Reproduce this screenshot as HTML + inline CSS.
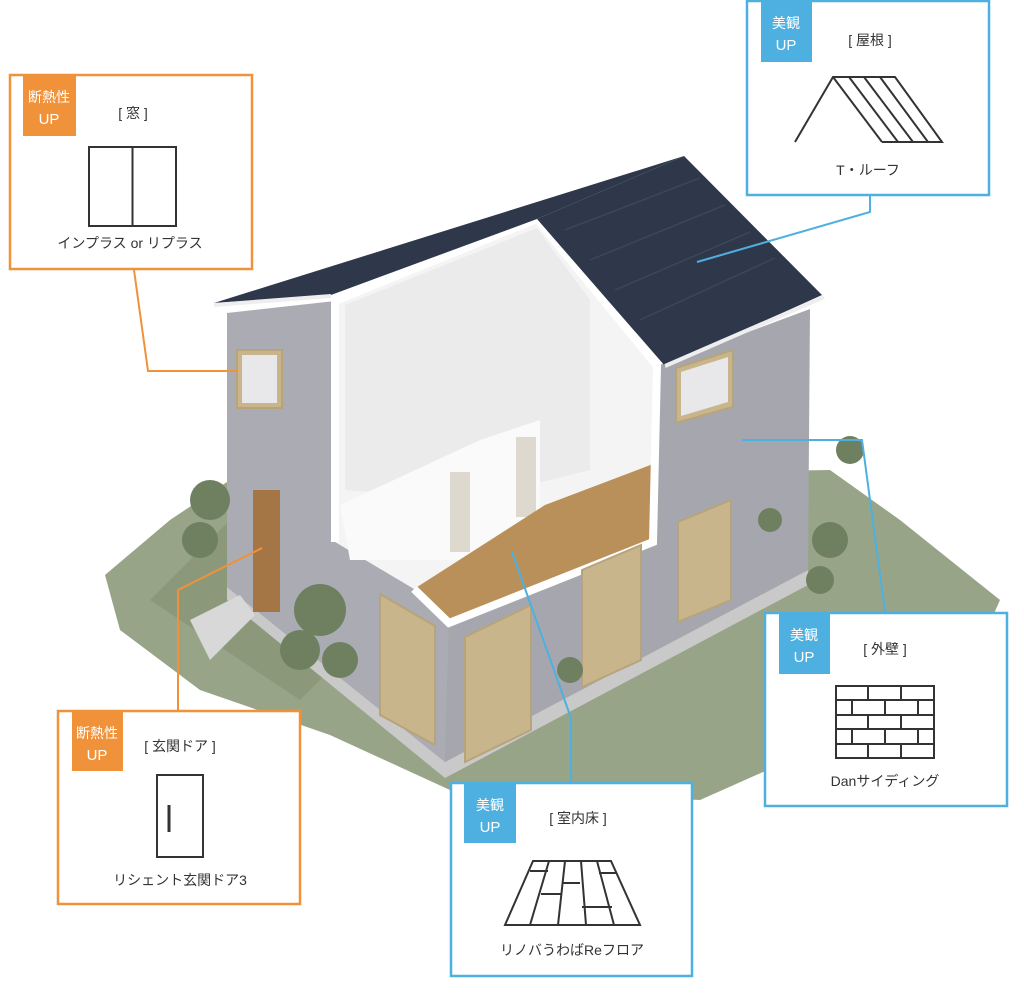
<!DOCTYPE html>
<html><head><meta charset="utf-8"><style>
html,body{margin:0;padding:0;background:#fff;}
svg{display:block}
text{font-family:"Liberation Sans","Noto Sans CJK JP",sans-serif;}
</style></head><body>
<svg width="1024" height="995" viewBox="0 0 1024 995" xmlns="http://www.w3.org/2000/svg">
<!-- grass -->
<polygon points="105,575 170,520 230,480 830,470 900,520 1000,600 960,690 790,760 700,800 450,790 330,735 200,690 120,630" fill="#98a488"/>
<polygon points="150,600 230,520 300,500 400,600 300,700" fill="#7e8c6a" opacity="0.5"/>
<!-- foundation -->
<polygon points="227,587 445,762 808,570 808,585 445,778 227,600" fill="#c9c9c9"/>
<!-- left face -->
<polygon points="227,313 335,301 335,542 414,589 449,623 445,762 227,587" fill="#abacb3"/>
<!-- right face -->
<polygon points="449,623 653,542 657,366 810,309 808,570 445,762" fill="#a6a7ae"/>
<!-- interior -->
<polygon points="335,301 537,219 657,366 653,542 449,623 414,589 335,542" fill="#f4f4f4"/>
<polygon points="345,305 537,228 590,300 590,470 470,500 345,490" fill="#ebebeb"/>
<polygon points="340,505 480,440 540,420 540,520 460,560 350,560" fill="#fafafa"/>
<rect x="450" y="472" width="20" height="80" fill="#ddd9cf"/>
<rect x="516" y="437" width="20" height="80" fill="#ddd9cf"/>
<!-- floor -->
<polygon points="414,589 545,505 653,464 653,542 449,623" fill="#b99059"/>
<!-- inner frame white border -->
<polyline points="335,542 335,301 537,219 657,366 653,542 449,623 414,589" fill="none" stroke="#fff" stroke-width="8"/>
<!-- roofs -->
<polygon points="214,303 684,156 537,219 331,295" fill="#2f384b"/>
<polygon points="537,219 684,156 822,295 665,366" fill="#2f384b"/>
<g stroke="#3d4658" stroke-width="1.5">
<line x1="565" y1="230" x2="700" y2="178"/><line x1="590" y1="260" x2="725" y2="205"/>
<line x1="615" y1="290" x2="750" y2="232"/><line x1="640" y1="320" x2="775" y2="258"/>
</g>
<line x1="665" y1="366" x2="824" y2="297" stroke="#eee" stroke-width="4"/>
<line x1="214" y1="305" x2="331" y2="296" stroke="#eee" stroke-width="4"/>
<!-- windows -->
<g fill="#c9b58b" stroke="#b8a47a" stroke-width="2">
<rect x="237" y="350" width="45" height="58"/>
<polygon points="676,368 733,350 733,407 676,423"/>
<polygon points="380,594 435,626 435,745 380,715"/>
<polygon points="465,637 531,605 531,730 465,762"/>
<polygon points="582,570 641,545 641,660 582,687"/>
<polygon points="678,522 731,500 731,600 678,622"/>
</g>
<g fill="#e8e8ea">
<rect x="242" y="355" width="35" height="48"/>
<polygon points="681,372 728,357 728,402 681,416"/>
</g>
<rect x="253" y="490" width="27" height="122" fill="#a57645"/>
<!-- trees -->
<g fill="#6f8060">
<circle cx="210" cy="500" r="20"/><circle cx="200" cy="540" r="18"/>
<circle cx="320" cy="610" r="26"/><circle cx="300" cy="650" r="20"/><circle cx="340" cy="660" r="18"/>
<circle cx="570" cy="670" r="13"/>
<circle cx="770" cy="520" r="12"/><circle cx="850" cy="450" r="14"/><circle cx="830" cy="540" r="18"/><circle cx="820" cy="580" r="14"/>
</g>
<polygon points="190,620 240,595 255,615 210,660" fill="#d8d8d8"/>

<!-- connector lines -->
<g fill="none" stroke-width="2">
<polyline points="134,270 148,371 238,371" stroke="#f0923a"/>
<polyline points="178,710 178,590 262,548" stroke="#f0923a"/>
<polyline points="870,195 870,212 697,262" stroke="#4eb0e0"/>
<polyline points="571,782 571,718 512,552" stroke="#4eb0e0"/>
<polyline points="742,440 862,440 885,612" stroke="#4eb0e0"/>
</g>

<!-- window box -->
<rect x="10" y="75" width="242" height="194" fill="#fff" stroke="#f0923a" stroke-width="2.5"/>
<rect x="23" y="76" width="53" height="60" fill="#f0923a"/>
<text x="49" y="102" font-size="14" fill="#fff" text-anchor="middle">断熱性</text>
<text x="49" y="124" font-size="15" fill="#fff" text-anchor="middle">UP</text>
<text x="133" y="118" font-size="14" fill="#333" text-anchor="middle">[ 窓 ]</text>
<rect x="89" y="147" width="87" height="79" fill="none" stroke="#333" stroke-width="2"/>
<line x1="132.5" y1="147" x2="132.5" y2="226" stroke="#333" stroke-width="2"/>
<text x="130" y="248" font-size="14" fill="#333" text-anchor="middle">インプラス or リプラス</text>

<!-- roof box -->
<rect x="747" y="1" width="242" height="194" fill="#fff" stroke="#4eb0e0" stroke-width="2.5"/>
<rect x="761" y="1" width="51" height="61" fill="#4eb0e0"/>
<text x="786" y="28" font-size="14" fill="#fff" text-anchor="middle">美観</text>
<text x="786" y="50" font-size="15" fill="#fff" text-anchor="middle">UP</text>
<text x="870" y="45" font-size="14" fill="#333" text-anchor="middle">[ 屋根 ]</text>
<g stroke="#333" stroke-width="2" fill="none">
<polyline points="795,142 833,77 895,77 942,142 882,142"/>
<line x1="833" y1="77" x2="882" y2="142"/>
<line x1="849" y1="77" x2="898" y2="142"/>
<line x1="864" y1="77" x2="913" y2="142"/>
<line x1="880" y1="77" x2="928" y2="142"/>
</g>
<text x="868" y="175" font-size="14" fill="#333" text-anchor="middle">T・ルーフ</text>

<!-- wall box -->
<rect x="765" y="613" width="242" height="193" fill="#fff" stroke="#4eb0e0" stroke-width="2.5"/>
<rect x="779" y="613" width="51" height="61" fill="#4eb0e0"/>
<text x="804" y="640" font-size="14" fill="#fff" text-anchor="middle">美観</text>
<text x="804" y="662" font-size="15" fill="#fff" text-anchor="middle">UP</text>
<text x="885" y="654" font-size="14" fill="#333" text-anchor="middle">[ 外壁 ]</text>
<g stroke="#333" stroke-width="2" fill="none">
<rect x="836" y="686" width="98" height="72"/>
<line x1="836" y1="700" x2="934" y2="700"/><line x1="836" y1="715" x2="934" y2="715"/>
<line x1="836" y1="729" x2="934" y2="729"/><line x1="836" y1="744" x2="934" y2="744"/>
<line x1="868" y1="686" x2="868" y2="700"/><line x1="901" y1="686" x2="901" y2="700"/>
<line x1="852" y1="700" x2="852" y2="715"/><line x1="885" y1="700" x2="885" y2="715"/><line x1="918" y1="700" x2="918" y2="715"/>
<line x1="868" y1="715" x2="868" y2="729"/><line x1="901" y1="715" x2="901" y2="729"/>
<line x1="852" y1="729" x2="852" y2="744"/><line x1="885" y1="729" x2="885" y2="744"/><line x1="918" y1="729" x2="918" y2="744"/>
<line x1="868" y1="744" x2="868" y2="758"/><line x1="901" y1="744" x2="901" y2="758"/>
</g>
<text x="885" y="786" font-size="14" fill="#333" text-anchor="middle">Danサイディング</text>

<!-- door box -->
<rect x="58" y="711" width="242" height="193" fill="#fff" stroke="#f0923a" stroke-width="2.5"/>
<rect x="72" y="711" width="51" height="60" fill="#f0923a"/>
<text x="97" y="738" font-size="14" fill="#fff" text-anchor="middle">断熱性</text>
<text x="97" y="760" font-size="15" fill="#fff" text-anchor="middle">UP</text>
<text x="180" y="751" font-size="14" fill="#333" text-anchor="middle">[ 玄関ドア ]</text>
<rect x="157" y="775" width="46" height="82" fill="none" stroke="#333" stroke-width="2"/>
<line x1="169" y1="805" x2="169" y2="832" stroke="#333" stroke-width="3"/>
<text x="180" y="885" font-size="14" fill="#333" text-anchor="middle">リシェント玄関ドア3</text>

<!-- floor box -->
<rect x="451" y="783" width="241" height="193" fill="#fff" stroke="#4eb0e0" stroke-width="2.5"/>
<rect x="464" y="783" width="52" height="60" fill="#4eb0e0"/>
<text x="490" y="810" font-size="14" fill="#fff" text-anchor="middle">美観</text>
<text x="490" y="832" font-size="15" fill="#fff" text-anchor="middle">UP</text>
<text x="578" y="823" font-size="14" fill="#333" text-anchor="middle">[ 室内床 ]</text>
<g stroke="#333" stroke-width="2" fill="none">
<polygon points="533,861 611,861 640,925 505,925"/>
<line x1="549" y1="861" x2="530" y2="925"/>
<line x1="565" y1="861" x2="558" y2="925"/>
<line x1="581" y1="861" x2="586" y2="925"/>
<line x1="597" y1="861" x2="614" y2="925"/>
<line x1="530" y1="871" x2="548" y2="871"/>
<line x1="541" y1="894" x2="562" y2="894"/>
<line x1="563" y1="883" x2="580" y2="883"/>
<line x1="582" y1="907" x2="612" y2="907"/>
<line x1="599" y1="873" x2="617" y2="873"/>
</g>
<text x="572" y="955" font-size="14" fill="#333" text-anchor="middle">リノバうわばReフロア</text>
</svg>
</body></html>
